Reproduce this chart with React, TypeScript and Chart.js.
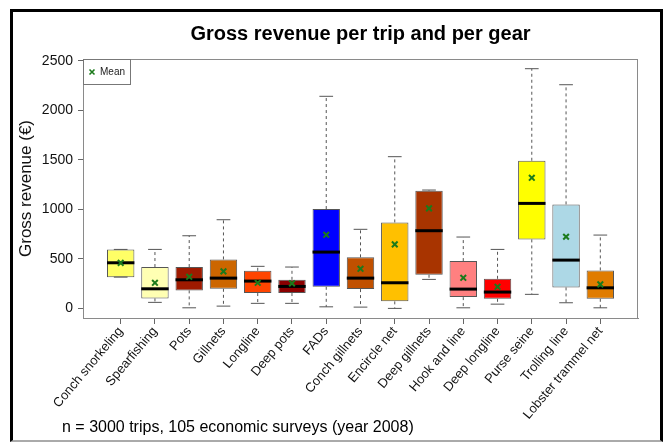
import React, { useEffect, useRef } from 'react';
import { Chart, registerables } from 'chart.js';

Chart.register(...registerables);

// Gears, in plotting order
const gears = [
  'Conch snorkeling',
  'Spearfishing',
  'Pots',
  'Gillnets',
  'Longline',
  'Deep pots',
  'FADs',
  'Conch gillnets',
  'Encircle net',
  'Deep gillnets',
  'Hook and line',
  'Deep longline',
  'Purse seine',
  'Trolling line',
  'Lobster trammel net',
];

// Five-number summaries of gross revenue per trip (€)
const whiskerLow = [316, 61, 6, 23, 51, 51, 16, 13, 0, 293, 6, 43, 142, 57, 6];
const quartile1 = [316, 101, 182, 198, 155, 155, 218, 195, 71, 340, 114, 97, 697, 212, 97];
const medians = [461, 198, 289, 306, 276, 222, 569, 306, 259, 785, 195, 165, 1061, 488, 208];
const quartile3 = [596, 418, 418, 495, 380, 289, 1004, 516, 869, 1190, 478, 299, 1492, 1051, 384];
const whiskerHigh = [596, 596, 734, 896, 425, 418, 2143, 799, 1533, 1196, 721, 596, 2422, 2260, 741];
const means = [460, 259, 319, 374, 259, 253, 744, 400, 647, 1011, 309, 218, 1320, 724, 243];

const boxColors = [
  '#FFFF66', '#FFFFB3', '#9E1A00', '#CC6600', '#FF4500',
  '#8B0000', '#0000FF', '#C05000', '#FFC000', '#A83400',
  '#FF8080', '#FF0000', '#FFFF00', '#ADD8E6', '#E07C00',
];

const yTicks = [0, 500, 1000, 1500, 2000, 2500];

const FONT = '"Liberation Sans", Arial, Helvetica, sans-serif';
const MEAN_COLOR = '#1b7a1b';

// Whiskers, caps, medians, plot frame, legend and footnote
const boxplotDecor = {
  id: 'boxplotDecor',
  afterDatasetDraw(chart: any, args: any) {
    if (args.index !== 0) return;
    const { ctx, scales } = chart;
    const x = scales.x;
    const y = scales.y;
    const meta = chart.getDatasetMeta(0);
    ctx.save();
    meta.data.forEach((bar: any, i: number) => {
      const cx = x.getPixelForValue(i + 1);
      const w = bar.width;
      const yLo = y.getPixelForValue(whiskerLow[i]);
      const yQ1 = y.getPixelForValue(quartile1[i]);
      const yQ3 = y.getPixelForValue(quartile3[i]);
      const yHi = y.getPixelForValue(whiskerHigh[i]);
      const yMed = y.getPixelForValue(medians[i]);

      // dashed whiskers
      ctx.strokeStyle = '#555';
      ctx.lineWidth = 1;
      ctx.setLineDash([3, 3]);
      ctx.beginPath();
      if (yHi < yQ3) {
        ctx.moveTo(cx, yQ3);
        ctx.lineTo(cx, yHi);
      }
      if (yLo > yQ1) {
        ctx.moveTo(cx, yQ1);
        ctx.lineTo(cx, yLo);
      }
      ctx.stroke();

      // caps
      ctx.setLineDash([]);
      ctx.beginPath();
      ctx.moveTo(cx - w / 4, yHi);
      ctx.lineTo(cx + w / 4, yHi);
      ctx.moveTo(cx - w / 4, yLo);
      ctx.lineTo(cx + w / 4, yLo);
      ctx.stroke();

      // median
      ctx.strokeStyle = '#000';
      ctx.lineWidth = 3;
      ctx.beginPath();
      ctx.moveTo(cx - w / 2, yMed);
      ctx.lineTo(cx + w / 2, yMed);
      ctx.stroke();
    });
    ctx.restore();
  },
  afterDraw(chart: any) {
    const { ctx, chartArea } = chart;
    const { left, top, right, bottom } = chartArea;
    ctx.save();
    // plot frame
    ctx.strokeStyle = '#8a8a8a';
    ctx.lineWidth = 1;
    ctx.strokeRect(left + 0.5, top + 0.5, right - left - 1, bottom - top);

    // legend box
    const meanSet = chart.data.datasets[1];
    ctx.strokeStyle = '#777';
    ctx.fillStyle = '#fff';
    ctx.fillRect(left + 0.5, top + 0.5, 47, 25);
    ctx.strokeRect(left + 0.5, top + 0.5, 47, 25);
    const mx = left + 9;
    const my = top + 13;
    ctx.strokeStyle = MEAN_COLOR;
    ctx.lineWidth = 1.6;
    ctx.beginPath();
    ctx.moveTo(mx - 2.5, my - 2.5);
    ctx.lineTo(mx + 2.5, my + 2.5);
    ctx.moveTo(mx - 2.5, my + 2.5);
    ctx.lineTo(mx + 2.5, my - 2.5);
    ctx.stroke();
    ctx.fillStyle = '#222';
    ctx.font = `10px ${FONT}`;
    ctx.textBaseline = 'middle';
    ctx.textAlign = 'left';
    ctx.fillText(meanSet.label, left + 17, my);

    // footnote
    ctx.font = `16px ${FONT}`;
    ctx.fillStyle = '#000';
    ctx.textBaseline = 'middle';
    ctx.fillText('n = 3000 trips, 105 economic surveys (year 2008)', 62, 428);
    ctx.restore();
  },
};

export default function App() {
  const canvasRef = useRef<HTMLCanvasElement>(null);

  useEffect(() => {
    if (!canvasRef.current) return;
    const chart = new Chart(canvasRef.current, {
      type: 'bar',
      data: {
        datasets: [
          {
            type: 'bar',
            label: 'Interquartile range',
            data: gears.map((_, i) => ({ x: i + 1, y: [quartile1[i], quartile3[i]] })) as any,
            backgroundColor: boxColors,
            borderColor: '#555',
            borderWidth: 1,
            borderSkipped: false,
            barPercentage: 0.8,
            categoryPercentage: 1,
            order: 2,
          } as any,
          {
            type: 'scatter',
            label: 'Mean',
            data: means.map((m, i) => ({ x: i + 1, y: m })),
            pointStyle: 'crossRot',
            radius: 4,
            borderColor: MEAN_COLOR,
            backgroundColor: MEAN_COLOR,
            borderWidth: 2,
            order: 1,
          } as any,
        ],
      },
      options: {
        responsive: false,
        animation: false,
        events: [],
        layout: { padding: { left: 0, right: 27, top: 0, bottom: 0 } },
        plugins: {
          legend: { display: false },
          tooltip: { enabled: false },
          title: {
            display: true,
            text: 'Gross revenue per trip and per gear',
            fullSize: false,
            color: '#000',
            font: { family: FONT, size: 20, weight: 'bold', lineHeight: 1 },
            padding: { top: 24.5, bottom: 14.5 },
          },
        },
        scales: {
          x: {
            type: 'linear',
            offset: false,
            min: -0.1,
            max: 16.1,
            afterBuildTicks: (scale: any) => {
              scale.ticks = gears.map((_, i) => ({ value: i + 1 }));
            },
            afterFit: (scale: any) => {
              scale.height = 124;
            },
            ticks: {
              autoSkip: false,
              minRotation: 50,
              maxRotation: 50,
              padding: 0,
              color: '#111',
              font: { family: FONT, size: 13 },
              callback: (value: any) => gears[Number(value) - 1] ?? '',
            },
            grid: {
              offset: false,
              drawOnChartArea: false,
              drawTicks: true,
              tickLength: 6,
              color: '#666',
            },
            border: { display: true, color: '#8a8a8a' },
          } as any,
          y: {
            type: 'linear',
            min: -97,
            max: 2520,
            afterBuildTicks: (scale: any) => {
              scale.ticks = yTicks.map((v) => ({ value: v }));
            },
            afterFit: (scale: any) => {
              scale.width = 83;
            },
            ticks: {
              padding: 5,
              color: '#111',
              font: { family: FONT, size: 14 },
              callback: (value: any) => String(value),
            },
            grid: {
              drawOnChartArea: false,
              drawTicks: true,
              tickLength: 5,
              color: '#666',
            },
            border: { display: true, color: '#8a8a8a' },
            title: {
              display: true,
              text: 'Gross revenue (€)',
              color: '#111',
              font: { family: FONT, size: 17 },
              padding: { top: 16, bottom: 0 },
            },
          } as any,
        },
      },
      plugins: [boxplotDecor],
    });
    return () => chart.destroy();
  }, []);

  return (
    <div style={{ position: 'fixed', left: 0, top: 0, width: 665, height: 442, background: '#fff', overflow: 'hidden' }}>
      <canvas ref={canvasRef} width={665} height={442} style={{ position: 'absolute', left: 0, top: 0 }} />
      <div
        style={{
          position: 'absolute',
          left: 10,
          top: 9,
          width: 653,
          height: 433,
          boxSizing: 'border-box',
          border: '3px solid #000',
          borderBottom: '2px solid #aaa',
          pointerEvents: 'none',
        }}
      />
    </div>
  );
}
